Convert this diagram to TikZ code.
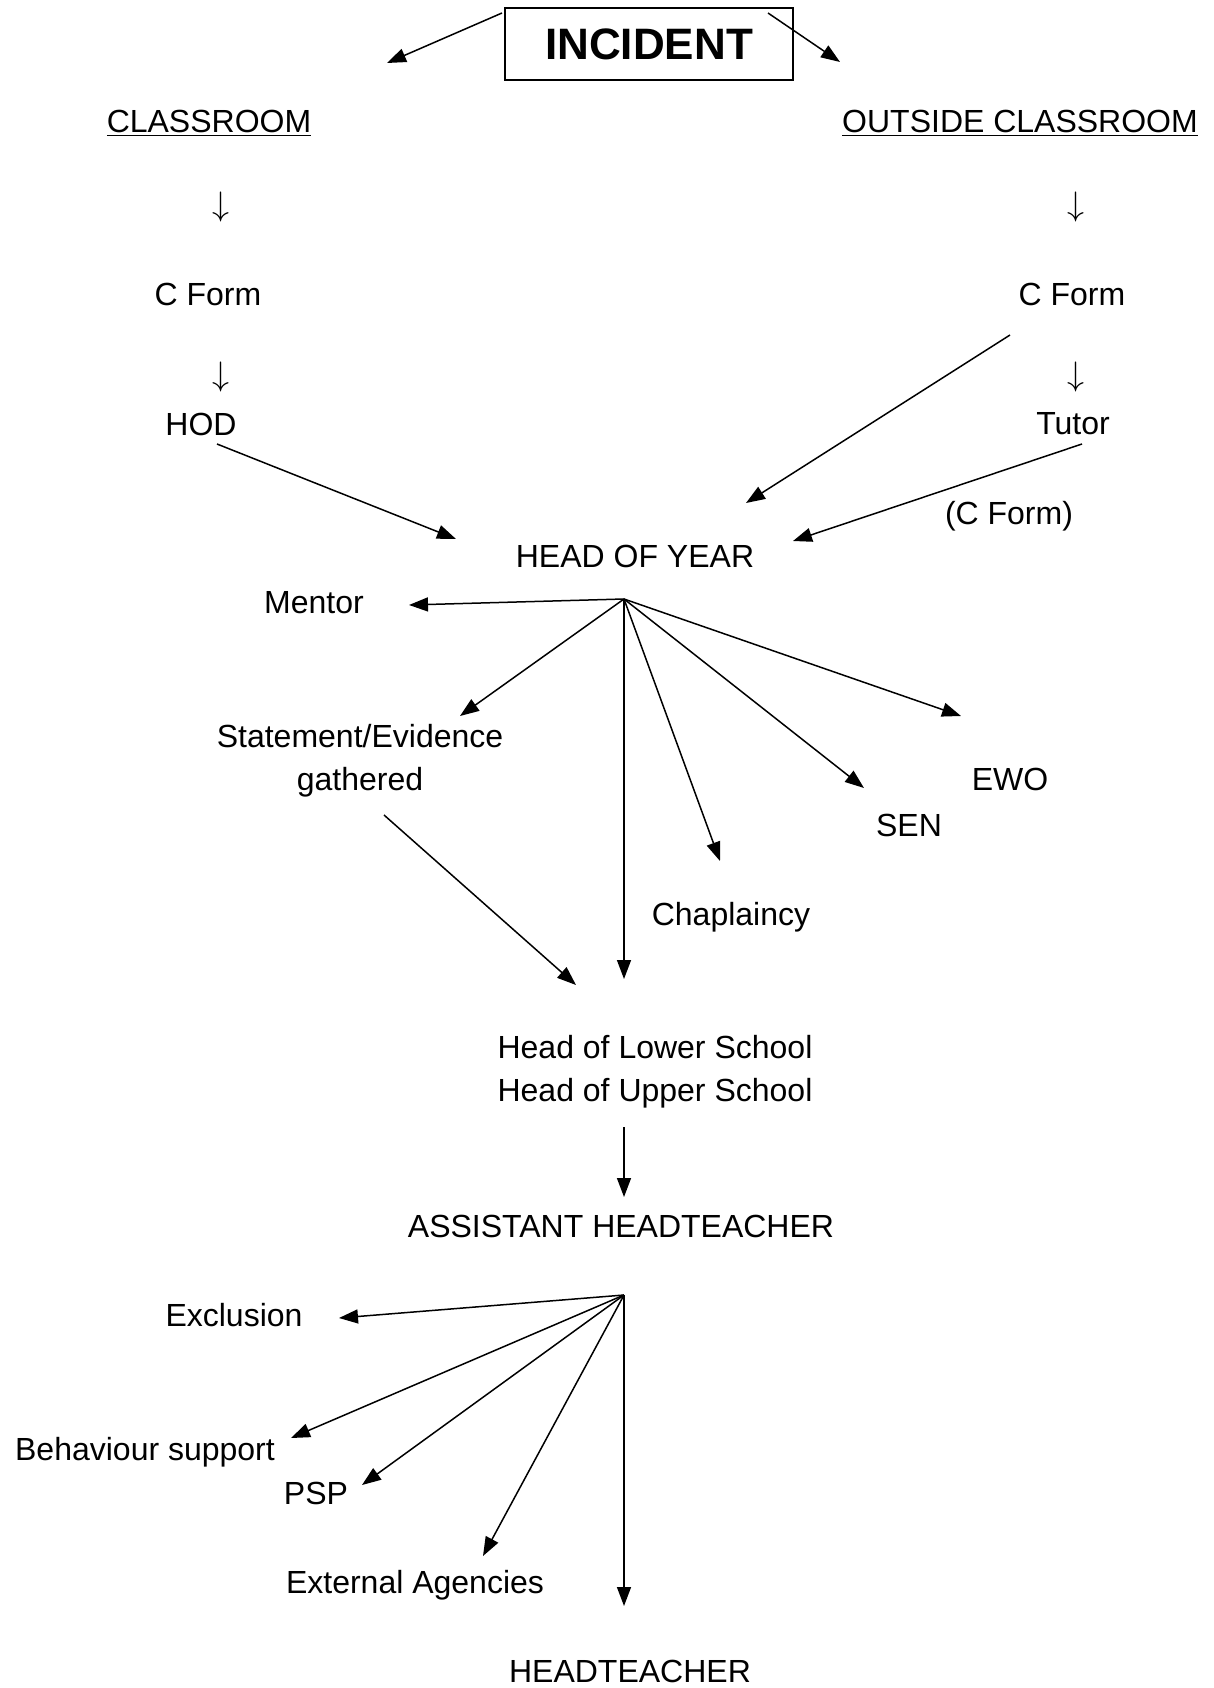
\RequirePackage{fix-cm}
\documentclass[tikz,border=0pt]{standalone}
\usepackage{fontspec}
\setmainfont{Liberation Sans}
\usetikzlibrary{positioning,arrows.meta}

\begin{document}
\begin{tikzpicture}[
  x=1pt, y=-1pt,
  lbl/.style={inner sep=0pt, anchor=base, font=\fontsize{32}{43}\selectfont},
  twoline/.style={lbl, align=center, anchor=north},
  down/.style={inner sep=0pt, font=\fontsize{34}{40}\selectfont},
  incbox/.style={draw, line width=1.6pt, minimum width=288pt, minimum height=72pt,
                 inner sep=0pt, font=\fontsize{44}{54}\selectfont\bfseries},
  flow/.style={-{Triangle[length=19pt, width=14pt]}, line width=1.5pt},
]
  \useasboundingbox (0,0) rectangle (1214,1688);

  \node[incbox] (incident) at (649,44) {INCIDENT};

  % left column
  \node[lbl] (classroom) at (209,133) {\underline{CLASSROOM}};
  \node[down] (downL1) at (221,207) {$\downarrow$};
  \node[lbl] (cformL) at (208,305) {C Form};
  \node[down] (downL2) at (221,377) {$\downarrow$};
  \node[lbl] (hod) at (201,435) {HOD};

  % right column
  \node[lbl] (outside) at (1020,133) {\underline{OUTSIDE CLASSROOM}};
  \node[down] (downR1) at (1076,207) {$\downarrow$};
  \node[lbl] (cformR) at (1072,305) {C Form};
  \node[down] (downR2) at (1076,377) {$\downarrow$};
  \node[lbl] (tutor) at (1073,434) {Tutor};
  \node[lbl] (cformnote) at (1009,524) {(C Form)};

  \node[lbl] (hoy) at (635,567) {HEAD OF YEAR};
  \node[lbl] (mentor) at (314,613) {Mentor};
  \node[twoline] (evidence) at (360,724) {Statement/Evidence\\gathered};
  \node[lbl] (ewo) at (1010,790) {EWO};
  \node[lbl] (sen) at (909,836) {SEN};
  \node[lbl] (chaplaincy) at (731,925) {Chaplaincy};

  \node[twoline] (heads) at (655,1035) {Head of Lower School\\Head of Upper School};
  \node[lbl] (aht) at (621,1237) {ASSISTANT HEADTEACHER};

  \node[lbl] (exclusion) at (234,1326) {Exclusion};
  \node[lbl] (behaviour) at (145,1460) {Behaviour support};
  \node[lbl] (psp) at (316,1504) {PSP};
  \node[lbl] (agencies) at (415,1593) {External Agencies};
  \node[lbl] (headteacher) at (630,1682) {HEADTEACHER};

  % arrow ends
  \coordinate (incL) at (502,13);   \coordinate (classTip) at (387,63);
  \coordinate (incR) at (768,13);   \coordinate (outTip) at (840,62);
  \coordinate (hodOut) at (217,444);  \coordinate (hodTip) at (456,539);
  \coordinate (cformOut) at (1010,335); \coordinate (cformTip) at (746,503);
  \coordinate (tutorOut) at (1082,444); \coordinate (tutorTip) at (793,541);

  \coordinate (hub) at (624,599);
  \coordinate (mentorTip) at (409,605);
  \coordinate (evidTip) at (460,716);
  \coordinate (chapTip) at (720,861);
  \coordinate (senTip) at (864,788);
  \coordinate (ewoTip) at (961,716);
  \coordinate (headsTip) at (624,979);
  \coordinate (evidOut) at (384,815); \coordinate (evidHeads) at (576,985);
  \coordinate (headsOut) at (624,1127); \coordinate (ahtTip) at (624,1197);

  \coordinate (hubB) at (624,1295);
  \coordinate (exclTip) at (339,1318);
  \coordinate (behTip) at (291,1438);
  \coordinate (pspTip) at (362,1485);
  \coordinate (agTip) at (483,1556);
  \coordinate (htTip) at (624,1606);

  \draw[flow] (incL) -- (classTip);
  \draw[flow] (incR) -- (outTip);
  \draw[flow] (hodOut) -- (hodTip);
  \draw[flow] (cformOut) -- (cformTip);
  \draw[flow] (tutorOut) -- (tutorTip);

  \foreach \t in {mentorTip, evidTip, chapTip, senTip, ewoTip, headsTip}
    \draw[flow] (hub) -- (\t);
  \draw[flow] (evidOut) -- (evidHeads);
  \draw[flow] (headsOut) -- (ahtTip);

  \foreach \t in {exclTip, behTip, pspTip, agTip, htTip}
    \draw[flow] (hubB) -- (\t);
\end{tikzpicture}
\end{document}
